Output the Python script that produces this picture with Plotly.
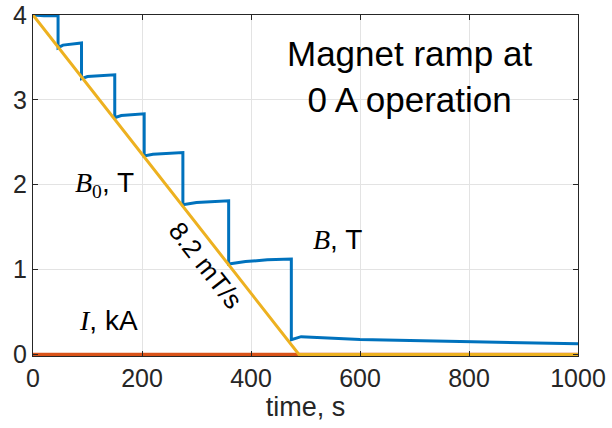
import plotly.graph_objects as go

# Data
t_B = [0, 20, 46, 46, 55, 89, 89, 100, 150, 150, 162, 204, 204, 220, 275, 275, 300, 359,
       359, 390, 430, 474, 474, 492, 600, 856, 1000]
B = [4.0, 3.99, 3.995, 3.615, 3.645, 3.67, 3.25, 3.275, 3.295, 2.79, 2.815, 2.835, 2.34, 2.36, 2.38,
     1.765, 1.79, 1.81, 1.065, 1.095, 1.115, 1.125, 0.175, 0.21, 0.175, 0.144, 0.125]
t_B0 = [0, 488, 1000]
B0 = [4.0, 0.0, 0.0]
t_I = [0, 1000]
I = [0.0, 0.0]

x_ticks = [0, 200, 400, 600, 800, 1000]
y_ticks = [0, 1, 2, 3, 4]

BLUE = "#0072BD"
RED = "#D95319"
YELLOW = "#EDB120"
AX = "#262626"
FONT = "Liberation Sans, Arial, sans-serif"

fig = go.Figure()
fig.add_trace(go.Scatter(x=t_I, y=I, mode="lines", line=dict(color=RED, width=3.5),
                         cliponaxis=False, showlegend=False))
fig.add_trace(go.Scatter(x=t_B, y=B, mode="lines", line=dict(color=BLUE, width=3),
                         cliponaxis=False, showlegend=False))
fig.add_trace(go.Scatter(x=t_B0, y=B0, mode="lines", line=dict(color=YELLOW, width=3),
                         cliponaxis=False, showlegend=False))

fig.update_layout(
    width=612, height=428,
    margin=dict(l=33, r=34, t=15, b=72),
    paper_bgcolor="white", plot_bgcolor="white",
    font=dict(family=FONT, color=AX, size=25),
)
fig.update_xaxes(range=[0, 1000], tickvals=x_ticks, ticktext=[str(v) for v in x_ticks],
                 ticks="inside", ticklen=5, tickcolor=AX, showline=True, linecolor=AX,
                 linewidth=1, mirror="ticks", showgrid=True, gridcolor="#e3e3e3",
                 zeroline=False, tickfont=dict(size=25, color=AX), automargin=False,
                 title=dict(text="time, s", font=dict(size=27, color=AX), standoff=4))
fig.update_yaxes(range=[-0.018, 4.0], tickvals=y_ticks, ticktext=[str(v) for v in y_ticks],
                 ticks="inside", ticklen=5, tickcolor=AX, showline=True, linecolor=AX,
                 linewidth=1, mirror="ticks", showgrid=True, gridcolor="#e3e3e3",
                 zeroline=False, tickfont=dict(size=25, color=AX), automargin=False)

SERIF = "Liberation Serif"
fig.add_annotation(x=690, y=3.27, xref="x", yref="y", showarrow=False,
                   text="Magnet ramp at<br>0 A operation",
                   font=dict(family=FONT, size=35, color="black"), align="center")
fig.add_annotation(x=131, y=2.0, xref="x", yref="y", showarrow=False,
                   text=f"<span style='font-family:{SERIF}'><i>B</i><sub>0</sub></span>, T",
                   font=dict(family=FONT, size=28, color="black"))
fig.add_annotation(x=559, y=1.36, xref="x", yref="y", showarrow=False,
                   text=f"<span style='font-family:{SERIF}'><i>B</i></span>, T",
                   font=dict(family=FONT, size=28, color="black"))
fig.add_annotation(x=139, y=0.40, xref="x", yref="y", showarrow=False,
                   text=f"<span style='font-family:{SERIF}'><i>I</i></span>, kA",
                   font=dict(family=FONT, size=28, color="black"))
fig.add_annotation(x=316, y=1.05, xref="x", yref="y", showarrow=False,
                   text="8.2 mT/s", textangle=52,
                   font=dict(family=FONT, size=26, color="black"))

fig.write_html("out.html")
